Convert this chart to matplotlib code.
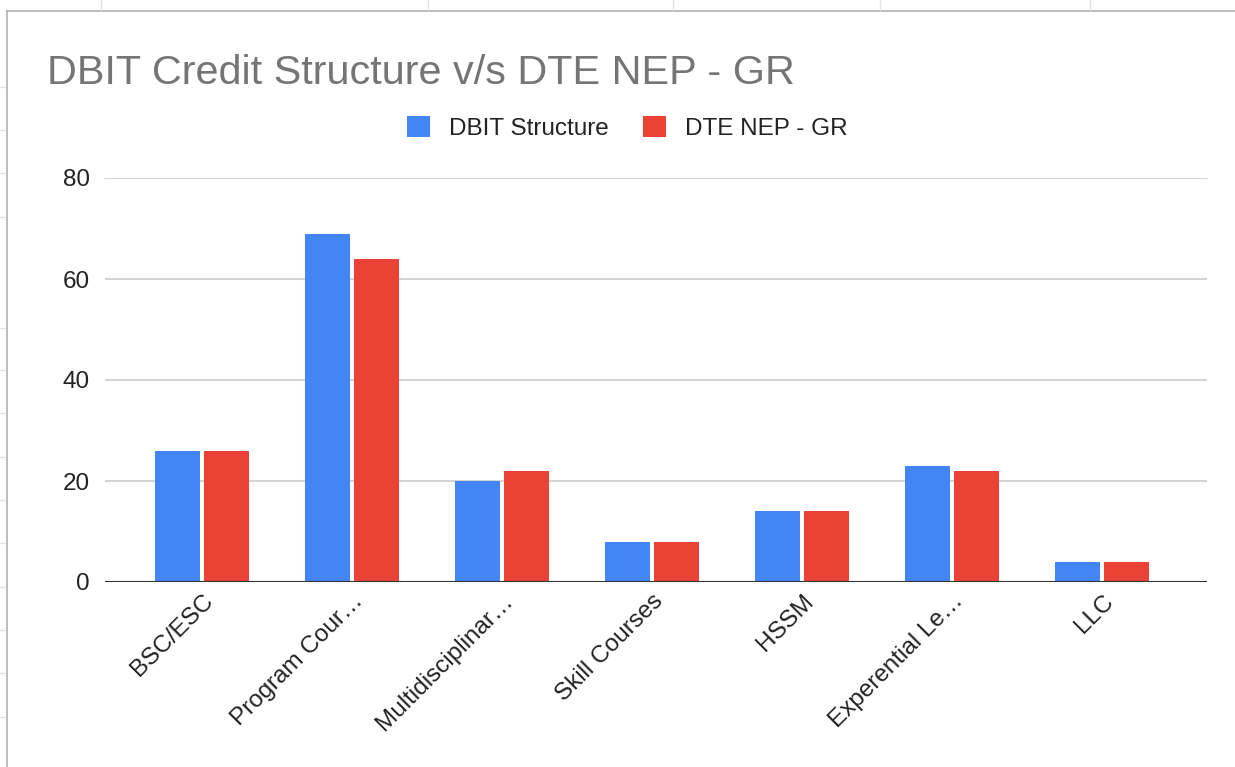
import numpy as np
import matplotlib
matplotlib.use("Agg")
import matplotlib.pyplot as plt
from matplotlib.lines import Line2D

# ==================== DATA ====================
categories = ["BSC/ESC", "Program Cour…", "Multidisciplinar…", "Skill Courses",
              "HSSM", "Experential Le…", "LLC"]
dbit_structure = [26, 69, 20, 8, 14, 23, 4]
dte_nep_gr = [26, 64, 22, 8, 14, 22, 4]
series_names = ["DBIT Structure", "DTE NEP - GR"]
y_ticks = [0, 20, 40, 60, 80]

BLUE = "#4285F4"
RED = "#EA4335"

plt.rcParams['font.family'] = ['Liberation Sans', 'DejaVu Sans']

W, H = 1235, 767
fig = plt.figure(figsize=(W / 100, H / 100), dpi=100)
fig.patch.set_facecolor("white")

# chart border + faint sheet grid marks behind it
border_c = "#b0b0b0"
fig.add_artist(Line2D([7 / W, 1], [1 - 11 / H, 1 - 11 / H], color=border_c, lw=1.2))
fig.add_artist(Line2D([7 / W, 7 / W], [0, 1 - 11 / H], color=border_c, lw=1.2))
for px in [101, 428, 673, 880, 1090]:
    fig.add_artist(Line2D([px / W, px / W], [1 - 10 / H, 1], color="#e2e2e2", lw=1))
for py in [87, 130, 173, 217, 328, 370, 413, 457, 500, 543, 587, 630, 673, 717]:
    fig.add_artist(Line2D([0, 5 / W], [1 - py / H, 1 - py / H], color="#e2e2e2", lw=1))

# ==================== AXES ====================
ax = fig.add_axes([105 / W, 1 - 582 / H, (1207 - 105) / W, (582 - 178) / H])
x = np.arange(len(categories))
bw = 0.3
ax.bar(x - 0.165, dbit_structure, bw, color=BLUE, label=series_names[0], zorder=3)
ax.bar(x + 0.165, dte_nep_gr, bw, color=RED, label=series_names[1], zorder=3)

ax.set_xlim(-0.647, 6.7)
ax.set_ylim(0, 80)
ax.set_yticks(y_ticks)
ax.set_yticklabels([str(v) for v in y_ticks])
ax.yaxis.grid(True, color="#cccccc", lw=1.2, zorder=0)
ax.axhline(0, color="#333333", lw=1.5, zorder=4)
for s in ax.spines.values():
    s.set_visible(False)
ax.tick_params(axis="y", length=0, pad=11, labelsize=17.5, labelcolor="#222222")
ax.tick_params(axis="x", length=0, pad=6, labelsize=17.5, labelcolor="#222222")
ax.set_xticks(x)
ax.set_xticklabels(categories, rotation=45, ha="right", rotation_mode="anchor")

# title + legend
fig.text(47 / W, 1 - 84 / H, "DBIT Credit Structure v/s DTE NEP - GR",
         fontsize=29.8, color="#757575", va="baseline", ha="left")
fig.legend(loc="center", bbox_to_anchor=(627 / W, 1 - 128 / H), ncol=2,
           frameon=False, fontsize=17.5, handlelength=0.95, handleheight=0.95,
           handletextpad=0.78, columnspacing=1.4, labelcolor="#222222")

plt.savefig("out.png", dpi=100, facecolor="white")
